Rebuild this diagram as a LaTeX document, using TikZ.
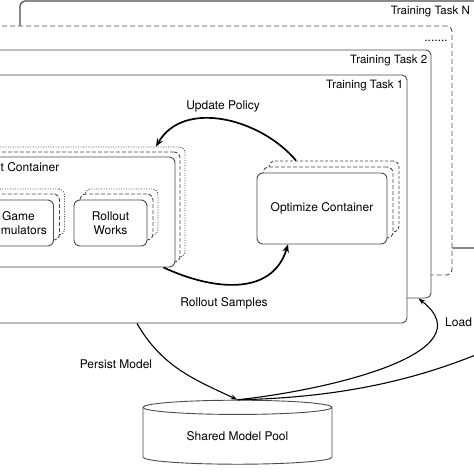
\documentclass[tikz,border=0pt]{standalone}
\usepackage{fontspec}
\setmainfont{TeX Gyre Heros}
\usetikzlibrary{arrows.meta,shapes.geometric,positioning}

\tikzset{
  taskbox/.style={draw=black!70, line width=0.9pt, rounded corners=5pt, fill=white, inner sep=0pt},
  contbox/.style={taskbox, rounded corners=6pt},
  stackdash/.style={contbox, dash pattern=on 4pt off 2pt},
  stackdot/.style={contbox, dash pattern=on 1pt off 1.5pt},
  boxtext/.style={font=\fontsize{12}{13.5}\selectfont, align=center},
  tasklabel/.style={font=\fontsize{11.5}{13}\selectfont, anchor=north east, inner sep=0pt},
  flow/.style={line width=1.7pt, -{Stealth[length=8pt,width=6.5pt]}},
  modelflow/.style={line width=1.1pt, -{Stealth[length=7pt,width=5pt]}},
}

\begin{document}
\begin{tikzpicture}[x=1pt,y=1pt]
  \useasboundingbox (0,0) rectangle (474,474);
  \fill[white] (0,0) rectangle (474,474);
  \clip (0,0) rectangle (474,474);

  % training tasks, back to front
  \node[taskbox, line width=1.2pt, minimum width=480pt, minimum height=247pt] (taskn) at (260,349.5) {};
  \node[tasklabel] (tasknlabel) at (470,468) {Training Task N};
  \node[taskbox, dash pattern=on 5pt off 3pt, minimum width=472pt, minimum height=249pt] (taskmore) at (216,323.5) {};
  \node[boxtext, anchor=base] (dots) at (436,432) {.......};
  \node[taskbox, minimum width=451pt, minimum height=248pt] (task2) at (205.5,300) {};
  \node[tasklabel] (task2label) at ([shift={(-4pt,-5pt)}]task2.north east) {Training Task 2};
  \node[taskbox, minimum width=427pt, minimum height=248pt] (task1) at (193.5,275) {};
  \node[tasklabel] (task1label) at ([shift={(-4pt,-5pt)}]task1.north east) {Training Task 1};

  % rollout container
  \node[stackdot, minimum width=209pt, minimum height=110pt] (rc3) at (80.5,272) {};
  \node[stackdash, minimum width=209pt, minimum height=110pt] (rc2) at (75.5,267) {};
  \node[contbox, minimum width=209pt, minimum height=110pt] (rc) at (70.5,262) {};
  \node[boxtext, anchor=north west, inner sep=0pt] (rclabel) at ([shift={(1pt,-6pt)}]rc.north west) {Rollout Container};

  \node[stackdot, minimum width=70pt, minimum height=46pt] (game3) at (29.5,262) {};
  \node[stackdash, minimum width=70pt, minimum height=46pt] (game2) at (24.5,257) {};
  \node[contbox, boxtext, minimum width=70pt, minimum height=46pt] (game) at (18.5,251) {Game\\Simulators};

  \node[stackdot, minimum width=73pt, minimum height=46pt] (works3) at (121.5,262) {};
  \node[stackdash, minimum width=73pt, minimum height=46pt] (works2) at (116.5,257) {};
  \node[contbox, boxtext, minimum width=73pt, minimum height=46pt] (works) at (110.5,251) {Rollout\\Works};

  % optimize container
  \node[stackdash, dash pattern=on 3pt off 2pt, minimum width=130pt, minimum height=71pt] (opt3) at (334,277.5) {};
  \node[stackdash, minimum width=130pt, minimum height=71pt] (opt2) at (328,271.5) {};
  \node[contbox, boxtext, minimum width=130pt, minimum height=71pt] (opt) at (322,265.5) {Optimize Container};

  % shared pool
  \node[cylinder, shape border rotate=90, aspect=0.14, draw=black!70, line width=0.9pt, fill=white,
        boxtext, minimum width=189pt, minimum height=64pt, inner sep=0pt] (pool) at (237.5,38) {Shared Model Pool};
  \coordinate (tasknin) at (540,150);

  \draw[flow] ([xshift=-38pt]opt3.north) to[out=130,in=60]
    node[midway, above=4pt, boxtext] (updatelabel) {Update Policy} ([xshift=75.5pt]rc3.north);
  \draw[flow] ([xshift=-12pt]rc.south east) to[out=-25,in=-107,looseness=1.1]
    node[pos=0.4, below=9pt, boxtext] (sampleslabel) {Rollout Samples} ([xshift=-34pt]opt.south);
  \draw[modelflow] ([xshift=-56.5pt]task1.south) to[out=-60,in=155]
    node[pos=0.42, left=16pt, boxtext] (persistlabel) {Persist Model} (pool.north);
  \draw[modelflow] (pool.north) to[out=6,in=-38,looseness=1.1]
    node[pos=0.85, right=6pt, boxtext] (loadlabel) {Load Model} ([xshift=-13pt]task2.south east);
  \draw[modelflow] (pool.north) .. controls +(104,2) and +(-100,-55) .. (tasknin);
\end{tikzpicture}
\end{document}
